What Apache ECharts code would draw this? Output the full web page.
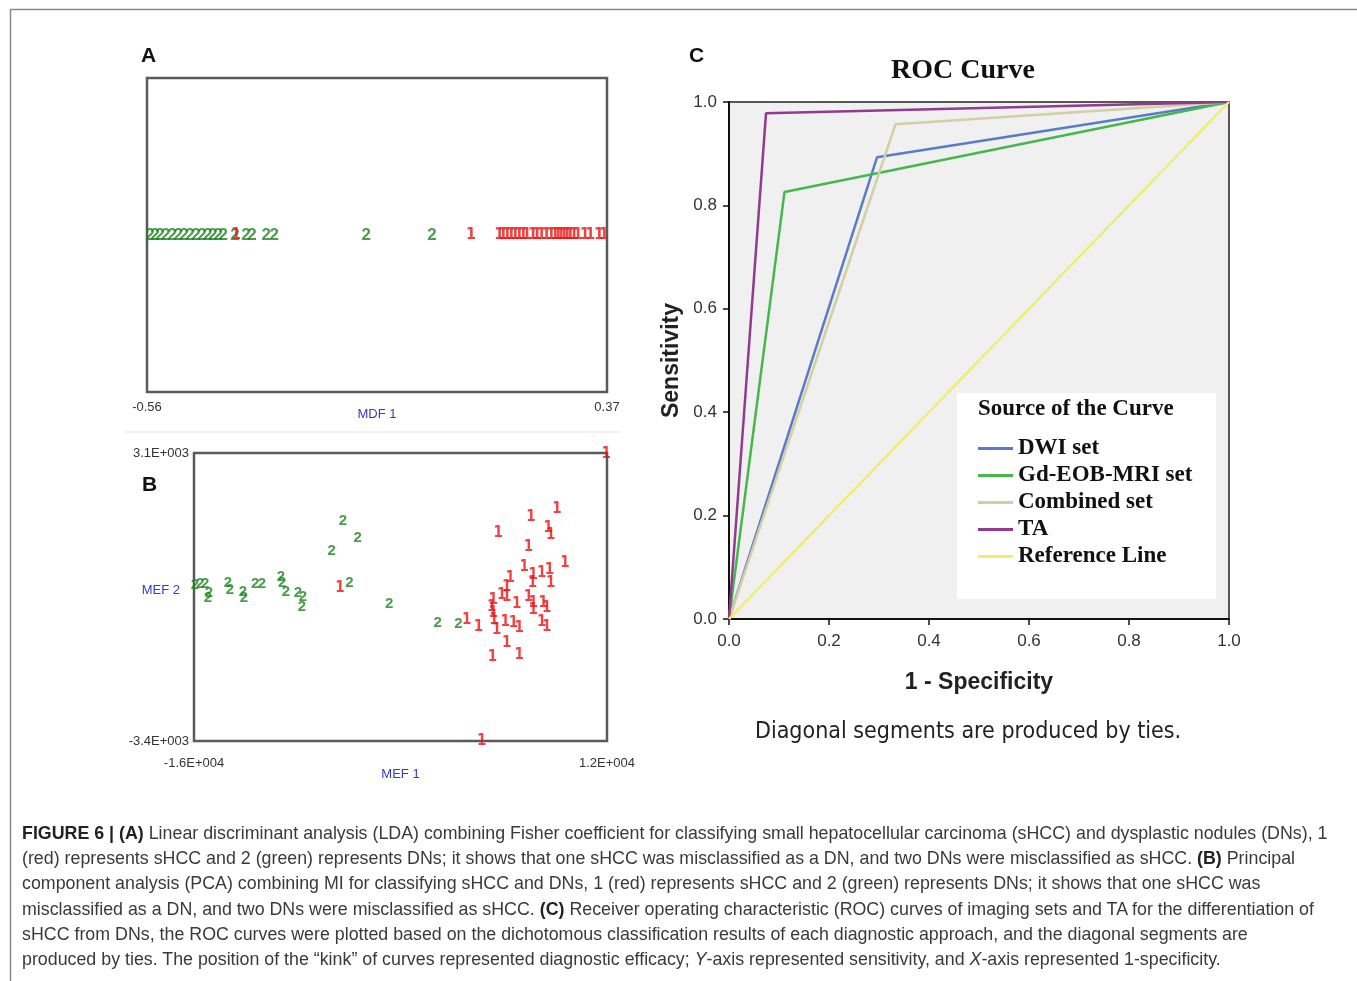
<!DOCTYPE html>
<html>
<head>
<meta charset="utf-8">
<script src="https://cdn.jsdelivr.net/npm/echarts@6/dist/echarts.min.js"></script>
<style>
html,body{margin:0;padding:0;background:#fff;}
#chart{position:absolute;left:0;top:0;width:1357px;height:981px;}
#caption{position:absolute;left:22px;top:821px;font-family:"Liberation Sans Narrow","Liberation Sans",Arial,sans-serif;font-size:17px;line-height:25.2px;color:#3a3a3a;white-space:nowrap;}
#caption b{color:#222;}
</style>
</head>
<body>
<div id="chart"></div>
<div id="caption">
<div class="ln" id="ln1"><b>FIGURE 6 | (A)</b> Linear discriminant analysis (LDA) combining Fisher coefficient for classifying small hepatocellular carcinoma (sHCC) and dysplastic nodules (DNs), 1</div>
<div class="ln">(red) represents sHCC and 2 (green) represents DNs; it shows that one sHCC was misclassified as a DN, and two DNs were misclassified as sHCC. <b>(B)</b> Principal</div>
<div class="ln">component analysis (PCA) combining MI for classifying sHCC and DNs, 1 (red) represents sHCC and 2 (green) represents DNs; it shows that one sHCC was</div>
<div class="ln">misclassified as a DN, and two DNs were misclassified as sHCC. <b>(C)</b> Receiver operating characteristic (ROC) curves of imaging sets and TA for the differentiation of</div>
<div class="ln">sHCC from DNs, the ROC curves were plotted based on the dichotomous classification results of each diagnostic approach, and the diagonal segments are</div>
<div class="ln">produced by ties. The position of the “kink” of curves represented diagnostic efficacy; <i>Y</i>-axis represented sensitivity, and <i>X</i>-axis represented 1-specificity.</div>
</div>
<script>
// ---------- Panel A: LDA (MDF 1) ----------
const ldaTickLabels = ['-0.56', '0.37'];
const ldaGroup2 = [-0.554,-0.544,-0.534,-0.522,-0.509,-0.497,-0.485,-0.473,-0.461,-0.449,-0.437,-0.427,-0.416,-0.406,-0.382,-0.360,-0.348,-0.319,-0.303,-0.117,0.016];
const ldaGroup1 = [-0.380,0.095,0.152,0.160,0.168,0.176,0.184,0.192,0.200,0.208,0.220,0.228,0.237,0.247,0.257,0.265,0.271,0.277,0.283,0.289,0.295,0.303,0.311,0.325,0.336,0.354,0.364];

// ---------- Panel B: PCA (MEF 1 vs MEF 2) ----------
const pcaXTickLabels = ['-1.6E+004', '1.2E+004'];
const pcaYTickLabels = ['-3.4E+003', '3.1E+003'];
const pcaGroup2 = [
  [-5900,1560],[-4900,1175],[-6660,888],[-5470,173],[-2760,-315],[520,-730],[1920,-760],
  [-15930,121],[-15590,143],[-15250,143],[-14980,-60],[-15050,-173],[-13700,166],[-13560,8],
  [-12680,-24],[-12610,-160],[-11860,143],[-11390,143],[-10100,301],[-10030,166],[-9760,-37],
  [-8950,-60],[-8610,-150],[-8680,-376]
];
const pcaGroup1 = [
  [-6100,53],[11950,3080],[3510,-3400],[4630,1300],[6850,1660],[8610,1830],[8020,1400],[8180,1250],
  [6670,970],[9150,620],[6390,530],[7000,350],[7570,400],[8090,460],[8180,160],[5430,270],
  [5200,80],[6940,160],[4860,-105],[5200,-143],[4290,-218],[5880,-308],[6670,-143],[7000,-292],
  [7000,-443],[7680,-292],[7910,-405],[4290,-518],[4340,-670],[5090,-708],[5650,-744],[6040,-857],
  [7570,-708],[7910,-820],[4520,-895],[2490,-670],[3280,-820],[5200,-1195],[4230,-1500],[6040,-1460],
  [4180,-380]
];

// ---------- Panel C: ROC curves ----------
const rocTicks = [0, 0.2, 0.4, 0.6, 0.8, 1.0];
const rocNames = ['DWI set', 'Gd-EOB-MRI set', 'Combined set', 'TA', 'Reference Line'];
const rocDWI = [[0,0],[0.296,0.893],[1,1]];
const rocGdEOB = [[0,0],[0.111,0.826],[1,1]];
const rocCombined = [[0,0],[0.333,0.957],[1,1]];
const rocTA = [[0,0],[0.074,0.978],[1,1]];
const rocReference = [[0,0],[1,1]];
const rocColors = ['#5a7cc8', '#45b84c', '#d4cea4', '#923a90', '#f3ec6a'];

const chart = echarts.init(document.getElementById('chart'), null, {renderer: 'canvas'});

const smallLbl = {fontFamily: 'Liberation Sans, Arial', fontSize: 13, color: '#333'};
const blueName = {fontFamily: 'Liberation Sans, Arial', fontSize: 13, color: '#3a3acc'};
function greenLabel(fs) {
  return {show: true, position: 'inside', formatter: '2', color: '#1d841d', fontFamily: 'Liberation Sans, Arial', fontWeight: 'bold', fontSize: fs};
}
function redLabel(fs) {
  return {show: true, position: 'inside', formatter: '1', color: '#ee1111', fontFamily: 'DejaVu Sans Condensed, DejaVu Sans', fontWeight: 'bold', fontSize: fs};
}

function scatterSeries(name, data, xi, yi, label, z) {
  return {
    name: name, type: 'scatter', xAxisIndex: xi, yAxisIndex: yi, data: data,
    symbolSize: 1, itemStyle: {color: 'rgba(0,0,0,0)'}, label: label, z: z,
    silent: true, animation: false
  };
}

function rocSeries(i, data) {
  return {
    name: rocNames[i], type: 'line', xAxisIndex: 2, yAxisIndex: 2, data: data,
    symbol: 'none', lineStyle: {color: rocColors[i], width: 2.5}, itemStyle: {color: rocColors[i]},
    animation: false, z: 3 + i
  };
}

const serifBold = 'Liberation Serif, Times New Roman, serif';

const option = {
  animation: false,
  grid: [
    {left: 147, top: 78, width: 460, height: 314, show: true, borderColor: '#5a5a5a', borderWidth: 2.5, backgroundColor: '#fff'},
    {left: 194, top: 453, width: 413, height: 288, show: true, borderColor: '#5a5a5a', borderWidth: 2.5, backgroundColor: '#fff'},
    {left: 729, top: 102, width: 500, height: 517, show: true, borderColor: '#222', borderWidth: 1.5, backgroundColor: '#f0f0f0'}
  ],
  xAxis: [
    {gridIndex: 0, type: 'value', min: -0.56, max: 0.37, interval: 0.93,
     axisLine: {show: false}, axisTick: {show: false}, splitLine: {show: false},
     axisLabel: Object.assign({margin: 9, formatter: (v, i) => ldaTickLabels[i]}, smallLbl),
     name: 'MDF 1', nameLocation: 'middle', nameGap: 16, nameMoveOverlap: false, nameTextStyle: blueName},
    {gridIndex: 1, type: 'value', min: -16000, max: 12000, interval: 28000,
     axisLine: {show: false}, axisTick: {show: false}, splitLine: {show: false},
     axisLabel: Object.assign({margin: 16, formatter: (v, i) => pcaXTickLabels[i]}, smallLbl),
     name: 'MEF 1', nameLocation: 'middle', nameGap: 27, nameMoveOverlap: false, nameTextStyle: blueName},
    {gridIndex: 2, type: 'value', min: 0, max: 1, interval: 0.2,
     axisLine: {show: true, lineStyle: {color: '#111', width: 2}},
     axisTick: {show: true, length: 6, lineStyle: {color: '#111', width: 1.5}},
     splitLine: {show: false},
     axisLabel: {margin: 14, fontFamily: 'Liberation Sans, Arial', fontSize: 17, color: '#333', formatter: v => v.toFixed(1)},
     name: '1 - Specificity', nameLocation: 'middle', nameGap: 52, nameMoveOverlap: false,
     nameTextStyle: {fontFamily: 'Liberation Sans, Arial', fontWeight: 'bold', fontSize: 23, color: '#222'}}
  ],
  yAxis: [
    {gridIndex: 0, type: 'value', min: -1, max: 1, show: false},
    {gridIndex: 1, type: 'value', min: -3400, max: 3100, interval: 6500,
     axisLine: {show: false}, axisTick: {show: false}, splitLine: {show: false},
     axisLabel: Object.assign({margin: 5, formatter: (v, i) => pcaYTickLabels[i]}, smallLbl),
     name: 'MEF 2', nameLocation: 'middle', nameRotate: 0, nameGap: 14, nameMoveOverlap: false,
     nameTextStyle: Object.assign({verticalAlign: 'bottom'}, blueName)},
    {gridIndex: 2, type: 'value', min: 0, max: 1, interval: 0.2,
     axisLine: {show: true, lineStyle: {color: '#111', width: 2}},
     axisTick: {show: true, length: 6, lineStyle: {color: '#111', width: 1.5}},
     splitLine: {show: false},
     axisLabel: {margin: 12, fontFamily: 'Liberation Sans, Arial', fontSize: 17, color: '#333', formatter: v => v.toFixed(1)},
     name: 'Sensitivity', nameLocation: 'middle', nameGap: 46, nameMoveOverlap: false,
     nameTextStyle: {fontFamily: 'Liberation Sans, Arial', fontWeight: 'bold', fontSize: 23, color: '#222'}}
  ],
  legend: {
    data: rocNames, orient: 'vertical', left: 978, top: 437, itemGap: 4, padding: 0,
    itemWidth: 35, itemHeight: 3, icon: 'rect', z: 10, selectedMode: false,
    textStyle: {fontFamily: serifBold, fontWeight: 'bold', fontSize: 23, color: '#111', lineHeight: 23}
  },
  title: {
    text: 'ROC Curve', left: 963, top: 57, textAlign: 'center', padding: 0,
    textStyle: {fontFamily: serifBold, fontWeight: 'bold', fontSize: 28, color: '#111'}
  },
  graphic: [
    {type: 'rect', left: 8, top: 7, shape: {width: 1348, height: 1000}, style: {fill: 'none', stroke: '#8a8a8a', lineWidth: 1.5}, silent: true, z: 0},
    {type: 'line', shape: {x1: 125, y1: 432, x2: 620, y2: 432}, style: {stroke: '#ececec', lineWidth: 1.5}, silent: true},
    {type: 'text', left: 141, top: 46, style: {text: 'A', fontFamily: 'Liberation Sans, Arial', fontWeight: 'bold', fontSize: 21, fill: '#111'}},
    {type: 'text', left: 142, top: 475, style: {text: 'B', fontFamily: 'Liberation Sans, Arial', fontWeight: 'bold', fontSize: 21, fill: '#111'}},
    {type: 'text', left: 689, top: 46, style: {text: 'C', fontFamily: 'Liberation Sans, Arial', fontWeight: 'bold', fontSize: 21, fill: '#111'}},
    {type: 'rect', left: 957, top: 393, shape: {width: 259, height: 206}, style: {fill: '#fff'}, z: 5},
    {type: 'text', left: 978, top: 398, z: 11, style: {text: 'Source of the Curve', fontFamily: serifBold, fontWeight: 'bold', fontSize: 23, fill: '#111'}},
    {type: 'text', left: 755, top: 721, style: {text: 'Diagonal segments are produced by ties.', fontFamily: 'DejaVu Sans Condensed, Liberation Sans, Arial', fontSize: 23, fill: '#222'}}
  ],
  series: [
    scatterSeries('LDA 2', ldaGroup2.map(x => [x, 0]), 0, 0, greenLabel(17), 3),
    scatterSeries('LDA 1', ldaGroup1.map(x => [x, 0]), 0, 0, redLabel(16), 4),
    scatterSeries('PCA 2', pcaGroup2, 1, 1, greenLabel(15), 3),
    scatterSeries('PCA 1', pcaGroup1, 1, 1, redLabel(15), 4),
    rocSeries(0, rocDWI),
    rocSeries(1, rocGdEOB),
    rocSeries(2, rocCombined),
    rocSeries(3, rocTA),
    rocSeries(4, rocReference)
  ]
};
chart.setOption(option);

// fit caption line 1 to the reference width
(function () {
  const ln = document.getElementById('ln1');
  ln.style.display = 'inline-block';
  const w = ln.getBoundingClientRect().width;
  ln.style.display = '';
  const target = 1306;
  const fs = 17 * target / w;
  document.getElementById('caption').style.fontSize = fs.toFixed(2) + 'px';
})();
</script>
</body>
</html>
